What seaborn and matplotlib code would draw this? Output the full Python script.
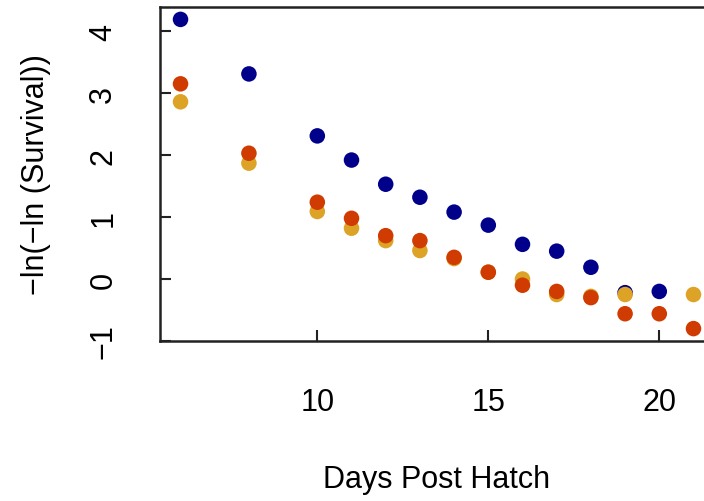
import matplotlib
matplotlib.use("Agg")
import matplotlib.pyplot as plt
import seaborn as sns
import pandas as pd

sns.set_style("white")
plt.rcParams['font.family'] = ['Liberation Sans', 'DejaVu Sans']
plt.rcParams['axes.labelcolor'] = 'black'
plt.rcParams['text.color'] = 'black'

days_blue = [6, 8, 10, 11, 12, 13, 14, 15, 16, 17, 18, 19, 20]
vals_blue = [4.19, 3.31, 2.31, 1.92, 1.53, 1.32, 1.08, 0.87, 0.56, 0.45, 0.19, -0.22, -0.20]

days_gold = [6, 8, 10, 11, 12, 13, 14, 15, 16, 17, 18, 19, 21]
vals_gold = [2.86, 1.87, 1.09, 0.82, 0.62, 0.46, 0.33, 0.11, 0.00, -0.25, -0.28, -0.25, -0.25]

days_red = [6, 8, 10, 11, 12, 13, 14, 15, 16, 17, 18, 19, 20, 21]
vals_red = [3.15, 2.03, 1.24, 0.98, 0.70, 0.62, 0.35, 0.11, -0.10, -0.20, -0.30, -0.56, -0.56, -0.80]

series_names = ["blue", "gold", "red"]
series_colors = ["#00008B", "#DDA326", "#CF3B00"]

df = pd.concat([
    pd.DataFrame({"day": days_blue, "val": vals_blue, "grp": "blue"}),
    pd.DataFrame({"day": days_gold, "val": vals_gold, "grp": "gold"}),
    pd.DataFrame({"day": days_red, "val": vals_red, "grp": "red"}),
], ignore_index=True)

fig = plt.figure(figsize=(7.04, 5.02), dpi=100)
ax = fig.add_axes([160/704, 160/502, 554/704, 334/502])

sns.scatterplot(data=df, x="day", y="val", hue="grp", hue_order=series_names,
                palette=series_colors, s=125, edgecolor="none", linewidth=0,
                legend=False, ax=ax)

ax.set_xlim(5.4, 21.6)
ax.set_ylim(-1.0, 4.39)
ax.set_xticks([10, 15, 20])
ax.set_yticks([-1, 0, 1, 2, 3, 4])
ax.tick_params(axis='both', direction='in', length=8, width=1.5, color='#222222',
               labelsize=22, labelcolor='black', bottom=True, left=True,
               top=False, right=False)
ax.tick_params(axis='x', pad=33)
ax.tick_params(axis='y', pad=30)
for lab in ax.get_yticklabels():
    lab.set_rotation(90)
    lab.set_va('center')

for side in ['left', 'bottom', 'top']:
    ax.spines[side].set_visible(True)
    ax.spines[side].set_linewidth(1.8)
    ax.spines[side].set_color('#222222')
ax.spines['right'].set_visible(False)

ax.set_xlabel("Days Post Hatch", fontsize=22, labelpad=34, color='black')
ax.set_ylabel("\u2212ln(\u2212ln (Survival))", fontsize=22, labelpad=27, color='black')

fig.savefig("out.png", dpi=100)
